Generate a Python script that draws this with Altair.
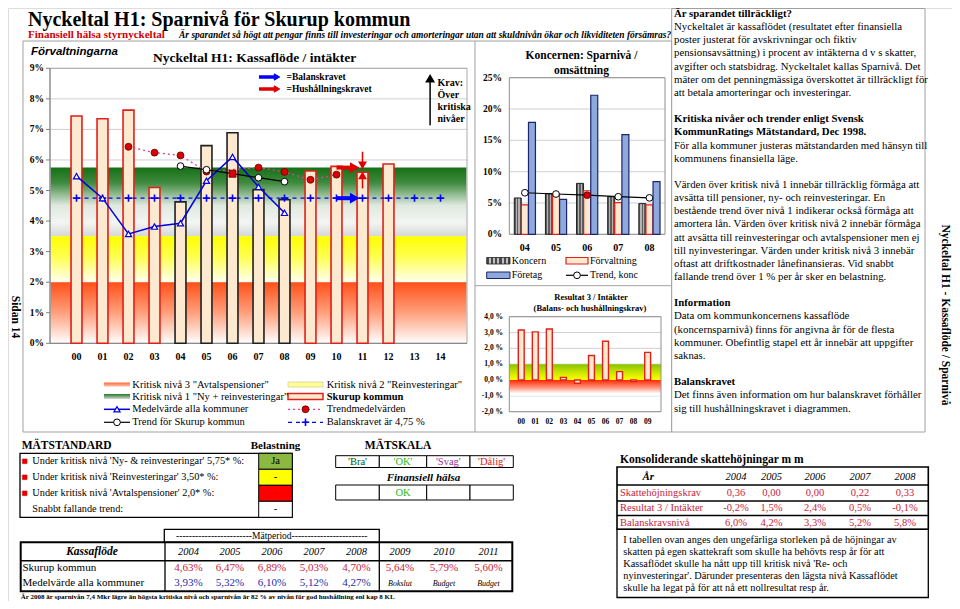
import altair as alt
import pandas as pd

OFF = 8
SERIF = "Liberation Serif"
SANS = "Liberation Sans"

# ---------------- data: main chart (Kassaflöde / intäkter) ----------------
main_cats = ["00", "01", "02", "03", "04", "05", "06", "07", "08", "09", "10", "11", "12", "13", "14"]
main_yticks = [0, 1, 2, 3, 4, 5, 6, 7, 8, 9]
main_ylabels = ["0%", "1%", "2%", "3%", "4%", "5%", "6%", "7%", "8%", "9%"]
skurup_idx = [0, 1, 2, 3, 4, 5, 6, 7, 8, 9, 10, 11, 12]
skurup_vals = [7.44, 7.35, 7.63, 5.10, 4.63, 6.47, 6.89, 5.03, 4.70, 5.64, 5.79, 5.60, 5.87]
matperiod_idx = [4, 5, 6, 7, 8]
medel_idx = [0, 1, 2, 3, 4, 5, 6, 7, 8]
medel_vals = [5.47, 4.75, 3.58, 3.82, 3.93, 5.32, 6.10, 5.12, 4.27]
tmedel_idx = [2, 3, 4, 5, 7, 8, 9, 10]
tmedel_vals = [6.43, 6.24, 6.15, 5.62, 5.75, 5.61, 5.35, 5.52]
tsk_idx = [4, 5, 6, 7, 8]
tsk_vals = [5.80, 5.68, 5.55, 5.42, 5.29]
tsk_current = 6
balans_idx = [0, 1, 2, 3, 4, 5, 6, 7, 8, 9, 10, 11, 12, 13, 14]
balans_level = 4.75
niva1, niva2, niva3 = 5.75, 3.50, 2.00

# ---------------- data: Koncernen ----------------
konc_cats = ["04", "05", "06", "07", "08"]
konc_yticks = [0, 5, 10, 15, 20, 25]
konc_ylabels = ["0%", "5%", "10%", "15%", "20%", "25%"]
koncern_vals = [5.80, 6.48, 8.13, 6.00, 4.90]
forvaltning_vals = [4.70, 6.47, 6.95, 5.05, 4.70]
foretag_vals = [17.86, 5.58, 22.20, 15.90, 8.40]
trend_konc_vals = [6.63, 6.43, 6.25, 6.00, 5.82]
konc_current = 2

# ---------------- data: Resultat 3 / Intäkter ----------------
res_cats = ["00", "01", "02", "03", "04", "05", "06", "07", "08", "09"]
res_yticks = [-2, -1, 0, 1, 2, 3, 4]
res_ylabels = ["-2,0 %", "-1,0 %", "0,0 %", "1,0 %", "2,0 %", "3,0 %", "4,0 %"]
res_vals = [3.16, 3.04, 3.22, 0.17, -0.20, 1.55, 2.45, 0.53, -0.10, 1.75]

# ---------------- data: tables ----------------
mat_rows = ["Under kritisk nivå 'Ny- & reinvesteringar' 5,75* %:",
            "Under kritisk nivå 'Reinvesteringar' 3,50* %:",
            "Under kritisk nivå 'Avtalspensioner' 2,0* %:",
            "Snabbt fallande trend:"]
belastning = ["Ja", "-", "-", "-"]
skala = ["'Bra'", "'OK'", "'Svag'", "'Dålig'"]
halsa = ["", "OK", "", ""]
tab_years = ["2004", "2005", "2006", "2007", "2008", "2009", "2010", "2011"]
tab_skurup = ["4,63%", "6,47%", "6,89%", "5,03%", "4,70%", "5,64%", "5,79%", "5,60%"]
tab_medel = ["3,93%", "5,32%", "6,10%", "5,12%", "4,27%"]
tab_notes = ["Bokslut", "Budget", "Budget"]
kons_years = ["2004", "2005", "2006", "2007", "2008"]
kons_rows = ["Skattehöjningskrav", "Resultat 3 / Intäkter", "Balanskravsnivå"]
kons_skatt = ["0,36", "0,00", "0,00", "0,22", "0,33"]
kons_res = ["-0,2%", "1,5%", "2,4%", "0,5%", "-0,1%"]
kons_bal = ["6,0%", "4,2%", "3,3%", "5,2%", "5,8%"]

panel_lines = [
    ("Är sparandet tillräckligt?", True),
    ("Nyckeltalet är kassaflödet (resultatet efter finansiella", False),
    ("poster justerat för avskrivningar och fiktiv", False),
    ("pensionsavsättning) i procent av intäkterna d v s skatter,", False),
    ("avgifter och statsbidrag. Nyckeltalet kallas Sparnivå. Det", False),
    ("mäter om det penningmässiga överskottet är tillräckligt för", False),
    ("att betala amorteringar och investeringar.", False),
    ("", False),
    ("Kritiska nivåer och trender enligt Svensk", True),
    ("KommunRatings Mätstandard, Dec 1998.", True),
    ("För alla kommuner justeras mätstandarden med hänsyn till", False),
    ("kommunens finansiella läge.", False),
    ("", False),
    ("Värden över kritisk nivå 1 innebär tillräcklig förmåga att", False),
    ("avsätta till pensioner, ny- och reinvesteringar. En", False),
    ("bestående trend över nivå 1 indikerar också förmåga att", False),
    ("amortera lån. Värden över kritisk nivå 2 innebär förmåga", False),
    ("att avsätta till reinvesteringar och avtalspensioner men ej", False),
    ("till nyinvesteringar. Värden under kritisk nivå 3 innebär", False),
    ("oftast att driftkostnader lånefinansieras. Vid snabbt", False),
    ("fallande trend över 1 % per år sker en belastning.", False),
    ("", False),
    ("Information", True),
    ("Data om kommunkoncernens kassaflöde", False),
    ("(koncernsparnivå) finns för angivna år för de flesta", False),
    ("kommuner. Obefintlig stapel ett år innebär att uppgifter", False),
    ("saknas.", False),
    ("", False),
    ("Balanskravet", True),
    ("Det finns även information om hur balanskravet förhåller", False),
    ("sig till hushållningskravet i diagrammen.", False),
]
kons_note = ["I tabellen ovan anges den ungefärliga storleken på de höjningar av",
             "skatten på egen skattekraft som skulle ha behövts resp år för att",
             "Kassaflödet skulle ha nått upp till  kritisk nivå 'Re- och",
             "nyinvesteringar'. Därunder presenteras den lägsta nivå Kassaflödet",
             "skulle ha legat på för att nå ett nollresultat resp år."]

# ---------------- colours ----------------
PEACH = "#FDE9D0"
RED = "#E0201A"
BLUE = "#0000DD"
CRIMSON = "#CC2238"
TBLUE = "#2A2AA8"


def P(v):
    return round(v - OFF, 2)


layers = []


def add(*c):
    layers.extend(c)


def tx(s, x, y, size=10, weight="normal", style="normal", color="black", align="left", font=SERIF, angle=0):
    return alt.Chart().mark_text(align=align, baseline="middle", fontSize=size, fontWeight=weight,
                                 fontStyle=style, color=color, font=font, angle=angle).encode(
        x=alt.value(P(x)), y=alt.value(P(y)), text=alt.value(s))


def block(lines, x, y0, lh, size=10, weight="normal", style="normal", color="black", align="left", font=SERIF):
    df = pd.DataFrame({"t": lines, "k": list(range(len(lines)))})
    df = df[df.t != ""]
    return alt.Chart(df).transform_calculate(yy=f"{P(y0)} + datum.k * {lh}").mark_text(
        align=align, baseline="middle", fontSize=size, fontWeight=weight, fontStyle=style,
        color=color, font=font).encode(x=alt.value(P(x)), y=alt.Y("yy:Q", scale=None), text="t:N")


def row_texts(strings, xs, y, size=10.5, weight="normal", style="normal", color="black", align="center", font=SERIF):
    df = pd.DataFrame({"t": strings, "xx": [P(v) for v in xs[:len(strings)]]})
    return alt.Chart(df).mark_text(align=align, baseline="middle", fontSize=size, fontWeight=weight,
                                   fontStyle=style, color=color, font=font).encode(
        x=alt.X("xx:Q", scale=None), y=alt.value(P(y)), text="t:N")


def prect(x, y, x2, y2, **mk):
    return alt.Chart().mark_rect(**mk).encode(x=alt.value(P(x)), x2=alt.value(P(x2)),
                                              y=alt.value(P(y)), y2=alt.value(P(y2)))


def prule(x, y, x2, y2, color="black", sw=1.0, dash=None):
    kw = dict(color=color, strokeWidth=sw)
    if dash:
        kw["strokeDash"] = dash
    return alt.Chart().mark_rule(**kw).encode(x=alt.value(P(x)), x2=alt.value(P(x2)),
                                              y=alt.value(P(y)), y2=alt.value(P(y2)))


def ppoint(x, y, shape="circle", size=40, fill="white", stroke="black", sw=1.0):
    return alt.Chart().mark_point(shape=shape, size=size, fill=fill, stroke=stroke, strokeWidth=sw,
                                  opacity=1, fillOpacity=1).encode(x=alt.value(P(x)), y=alt.value(P(y)))


def grad(stops, horizontal=False):
    g = dict(x1=0, x2=1, y1=0, y2=0) if horizontal else dict(x1=0, x2=0, y1=0, y2=1)
    return alt.Gradient(gradient="linear", stops=[alt.GradientStop(offset=o, color=c) for o, c in stops], **g)


def stripes(n, c1, c2):
    st = []
    for j in range(n):
        c = c1 if j % 2 == 0 else c2
        st += [(j / n, c), ((j + 1) / n, c)]
    return grad(st, horizontal=True)


def sx(f, s):
    return alt.X(f, scale=s, axis=None)


def sy(f, s):
    return alt.Y(f, scale=s, axis=None)


def band(lo, hi, xs, ys, xdom, stops):
    df = pd.DataFrame({"lo": [lo], "hi": [hi], "a": [xdom[0]], "b": [xdom[1]]})
    return alt.Chart(df).mark_rect(fill=grad(stops)).encode(
        x=sx("a:Q", xs), x2="b:Q", y=sy("hi:Q", ys), y2="lo:Q")


PLUS = "M-1,0L1,0M0,-1L0,1"

# ================= headings =================
add(tx("Nyckeltal H1: Sparnivå för Skurup kommun", 28, 19.5, 20, "bold"))
add(tx("Finansiell hälsa styrnyckeltal", 28, 35.2, 11, "bold", color="#D00000"))
add(tx("Är sparandet så högt att pengar finns till investeringar och amorteringar utan att skuldnivån ökar och likviditeten försämras?",
       179, 35.2, 9.5, "bold", "italic"))

# frames
add(prect(23, 41, 671.7, 432, fill="transparent", stroke="#A0A0A0", strokeWidth=1))
add(prule(475, 41, 475, 432, "#A0A0A0"))
add(prule(475, 285.7, 671.7, 285.7, "#A0A0A0"))

# ================= main chart =================
XM = alt.Scale(domain=[-1, 15], range=[P(50.5), P(466.5)], nice=False, zero=False)
YM = alt.Scale(domain=[0, 9], range=[P(343.3), P(68.3)], nice=False, zero=False)

df_yt = pd.DataFrame({"t": main_yticks, "lab": main_ylabels})
add(alt.Chart(df_yt).mark_rule(color="#C4C4C4", strokeWidth=0.8).encode(
    y=sy("t:Q", YM), x=alt.value(P(50)), x2=alt.value(P(467))))
add(band(niva2, niva1, XM, YM, [-1, 15], [(0, "#157015"), (0.22, "#3f8a3f"), (0.55, "#dfe9df"),
                                          (0.8, "#f3f5f3"), (1, "#d4d8d4")]))
add(band(niva3, niva2, XM, YM, [-1, 15], [(0, "#ffff00"), (0.45, "#ffff50"), (1, "#fffff2")]))
add(band(0, niva3, XM, YM, [-1, 15], [(0, "#ff5018"), (0.5, "#ffa07c"), (1, "#ffffff")]))
add(prect(50, 68.3, 467, 343.3, fill="transparent", stroke="#A8A8A8", strokeWidth=1))
add(prule(50, 68.3, 50, 343.3, "#808080"))
add(prule(50, 343.3, 467, 343.3, "#808080"))
add(alt.Chart(df_yt).mark_rule(color="#808080").encode(
    y=sy("t:Q", YM), x=alt.value(P(46)), x2=alt.value(P(50))))
add(alt.Chart(df_yt).mark_text(align="right", baseline="middle", font=SERIF, fontSize=9.5,
                               fontWeight="bold").encode(y=sy("t:Q", YM), x=alt.value(P(44)), text="lab:N"))
df_xc = pd.DataFrame({"i": list(range(len(main_cats))), "lab": main_cats})
add(alt.Chart(df_xc).mark_text(baseline="middle", font=SERIF, fontSize=10, fontWeight="bold").encode(
    x=sx("i:Q", XM), y=alt.value(P(357)), text="lab:N"))

df_sk = pd.DataFrame({"i": skurup_idx, "v": skurup_vals})
df_sk["per"] = df_sk.i.isin(matperiod_idx)
for sub, stroke in [(df_sk[~df_sk.per], RED), (df_sk[df_sk.per], "#202020")]:
    add(alt.Chart(sub).transform_calculate(a="datum.i - 0.21", b="datum.i + 0.21", z="0").mark_rect(
        fill=PEACH, stroke=stroke, strokeWidth=1.6).encode(
        x=sx("a:Q", XM), x2="b:Q", y=sy("v:Q", YM), y2="z:Q"))

df_bal = pd.DataFrame({"i": balans_idx, "v": [balans_level] * len(balans_idx)})
add(alt.Chart(df_bal).mark_line(color="#0000FF", strokeWidth=1.3, strokeDash=[4, 4]).encode(
    x=sx("i:Q", XM), y=sy("v:Q", YM)))
add(alt.Chart(df_bal).mark_point(shape=PLUS, size=55, stroke="#0000FF", strokeWidth=1.6, fill="transparent",
                                 opacity=1).encode(x=sx("i:Q", XM), y=sy("v:Q", YM)))

df_tm = pd.DataFrame({"i": tmedel_idx, "v": tmedel_vals})
add(alt.Chart(df_tm).mark_line(color="#E040A0", strokeWidth=1.3, strokeDash=[2, 3]).encode(
    x=sx("i:Q", XM), y=sy("v:Q", YM)))
add(alt.Chart(df_tm).mark_point(shape="circle", size=48, fill="#DD0000", stroke="#5a0000", strokeWidth=0.8,
                                opacity=1, fillOpacity=1).encode(x=sx("i:Q", XM), y=sy("v:Q", YM)))

df_md = pd.DataFrame({"i": medel_idx, "v": medel_vals})
add(alt.Chart(df_md).mark_line(color=BLUE, strokeWidth=1.5).encode(x=sx("i:Q", XM), y=sy("v:Q", YM)))
add(alt.Chart(df_md).mark_point(shape="triangle-up", size=38, fill="white", stroke=BLUE, strokeWidth=1.2,
                                opacity=1, fillOpacity=1).encode(x=sx("i:Q", XM), y=sy("v:Q", YM)))

df_ts = pd.DataFrame({"i": tsk_idx, "v": tsk_vals})
add(alt.Chart(df_ts).mark_line(color="black", strokeWidth=1.2).encode(x=sx("i:Q", XM), y=sy("v:Q", YM)))
add(alt.Chart(df_ts[df_ts.i != tsk_current]).mark_point(shape="circle", size=45, fill="white", stroke="black",
                                                       strokeWidth=1, opacity=1, fillOpacity=1).encode(
    x=sx("i:Q", XM), y=sy("v:Q", YM)))
add(alt.Chart(df_ts[df_ts.i == tsk_current]).mark_point(shape="square", size=50, fill="#DD0000",
                                                       stroke="#600000", strokeWidth=0.8, opacity=1,
                                                       fillOpacity=1).encode(x=sx("i:Q", XM), y=sy("v:Q", YM)))

# krav arrows in the chart
df_ha = pd.DataFrame({"a": [10.0], "b": [10.6], "h": [10.68], "bal": [balans_level], "hus": [niva1]})
add(alt.Chart(df_ha).mark_rule(color="#0000FF", strokeWidth=4).encode(x=sx("a:Q", XM), x2="b:Q", y=sy("bal:Q", YM)))
add(alt.Chart(df_ha).mark_point(shape="triangle-right", size=55, fill="#0000FF", stroke="#0000FF", opacity=1,
                                fillOpacity=1).encode(x=sx("h:Q", XM), y=sy("bal:Q", YM)))
add(alt.Chart(df_ha).mark_rule(color="#E00000", strokeWidth=4).encode(x=sx("a:Q", XM), x2="b:Q", y=sy("hus:Q", YM)))
add(alt.Chart(df_ha).mark_point(shape="triangle-right", size=55, fill="#E00000", stroke="#E00000", opacity=1,
                                fillOpacity=1).encode(x=sx("h:Q", XM), y=sy("hus:Q", YM)))
df_va = pd.DataFrame({"i": [11, 11], "a": [6.27, 5.07], "b": [5.9, 5.42], "h": [5.84, 5.48],
                      "dir": ["down", "up"]})
add(alt.Chart(df_va).mark_rule(color="#E00000", strokeWidth=1.5).encode(x=sx("i:Q", XM), y=sy("a:Q", YM), y2="b:Q"))
add(alt.Chart(df_va[df_va.dir == "down"]).mark_point(shape="triangle-down", size=30, fill="#E00000",
                                                    stroke="#E00000", opacity=1, fillOpacity=1).encode(
    x=sx("i:Q", XM), y=sy("h:Q", YM)))
add(alt.Chart(df_va[df_va.dir == "up"]).mark_point(shape="triangle-up", size=30, fill="#E00000",
                                                  stroke="#E00000", opacity=1, fillOpacity=1).encode(
    x=sx("i:Q", XM), y=sy("h:Q", YM)))
df_kr = pd.DataFrame({"i": [13.6], "a": [7.14], "b": [8.6], "h": [8.66]})
add(alt.Chart(df_kr).mark_rule(color="black", strokeWidth=1.5).encode(x=sx("i:Q", XM), y=sy("a:Q", YM), y2="b:Q"))
add(alt.Chart(df_kr).mark_point(shape="triangle-up", size=42, fill="black", stroke="black", opacity=1,
                                fillOpacity=1).encode(x=sx("i:Q", XM), y=sy("h:Q", YM)))

add(tx("Förvaltningarna", 31, 51.5, 11.5, "bold", "italic", font=SANS))
add(tx("Nyckeltal H1: Kassaflöde / intäkter", 254.5, 57.5, 13.5, "bold", align="center"))
add(prule(259, 77, 275, 77, "#0000FF", 3.5))
add(ppoint(277, 77, "triangle-right", 40, "#0000FF", "#0000FF"))
add(prule(259, 89, 275, 89, "#E00000", 3.5))
add(ppoint(277, 89, "triangle-right", 40, "#E00000", "#E00000"))
add(tx("=Balanskravet", 286.5, 77, 9.5, "bold"))
add(tx("=Hushållningskravet", 286.5, 89, 9.5, "bold"))
add(block(["Krav:", "Över", "kritiska", "nivåer"], 437.5, 82.7, 12.2, 10, "bold"))

# legend
r1, r2, r3, r4 = 384.5, 396.5, 409.3, 422.3
add(prect(104, r1 - 2, 130, r1 + 2, fill=grad([(0, "#ff6a3a"), (1, "#ffc0a8")])))
add(prect(104, r2 - 2.5, 130, r2 + 2.5, fill=grad([(0, "#1f7a1f"), (0.6, "#8fb08f"), (1, "#d6dad6")])))
add(prule(104, r3, 130, r3, BLUE, 1.5))
add(ppoint(117, r3, "triangle-up", 38, "white", BLUE, 1.2))
add(prule(104, r4, 130, r4, "black", 1.2))
add(ppoint(117, r4, "circle", 45, "white", "black", 1))
add(prect(288, r1 - 2.5, 323, r1 + 2.5, fill="#ffff90", stroke="#d0d0a0", strokeWidth=0.8))
add(prect(288, r2 - 3, 323, r2 + 3, fill=PEACH, stroke=RED, strokeWidth=1.5))
add(prule(288, r3, 323, r3, "#E040A0", 1.3, [2, 3]))
add(ppoint(305.5, r3, "circle", 48, "#DD0000", "#5a0000", 0.8))
add(prule(288, r4, 323, r4, "#0000FF", 1.3, [4, 4]))
add(ppoint(305.5, r4, PLUS, 55, "transparent", "#0000FF", 1.6))
add(block(['Kritisk nivå 3 "Avtalspensioner"', 'Kritisk nivå 1 "Ny + reinvesteringar"'], 132.3, r1, r2 - r1, 10.5))
add(block(["Medelvärde alla kommuner", "Trend för Skurup kommun"], 132.3, r3, r4 - r3, 10.5))
add(tx('Kritisk nivå 2 "Reinvesteringar"', 326.7, r1, 10.5))
add(tx("Skurup kommun", 326.7, r2, 10.5, "bold"))
add(block(["Trendmedelvärden", "Balanskravet är 4,75 %"], 326.7, r3, r4 - r3, 10.5))

# ================= Koncernen chart =================
X1 = alt.Scale(domain=[-0.5, 4.5], range=[P(509.3), P(665)], nice=False, zero=False)
Y1 = alt.Scale(domain=[0, 25], range=[P(234.3), P(77.7)], nice=False, zero=False)
df_k = pd.DataFrame({"t": konc_yticks, "lab": konc_ylabels})
add(alt.Chart(df_k).mark_rule(color="#C4C4C4", strokeWidth=0.8).encode(
    y=sy("t:Q", Y1), x=alt.value(P(509.3)), x2=alt.value(P(665))))
add(prect(509.3, 77.7, 665, 234.3, fill="transparent", stroke="#909090", strokeWidth=1))
add(alt.Chart(df_k).mark_text(align="right", baseline="middle", font=SERIF, fontSize=9.5,
                              fontWeight="bold").encode(y=sy("t:Q", Y1), x=alt.value(P(502)), text="lab:N"))
df_kc = pd.DataFrame({"k": list(range(len(konc_cats))), "lab": konc_cats})
add(alt.Chart(df_kc).mark_text(baseline="middle", font=SERIF, fontSize=10, fontWeight="bold").encode(
    x=sx("k:Q", X1), y=alt.value(P(248.3)), text="lab:N"))


def konc_bar(vals, off, **mk):
    df = pd.DataFrame({"k": list(range(len(vals))), "v": vals})
    return alt.Chart(df).transform_calculate(a=f"datum.k + ({off}) - 0.112", b=f"datum.k + ({off}) + 0.112",
                                             z="0").mark_rect(**mk).encode(
        x=sx("a:Q", X1), x2="b:Q", y=sy("v:Q", Y1), y2="z:Q")


add(konc_bar(koncern_vals, -0.228, fill=stripes(5, "#5c5c5c", "#b4b4b4"), stroke="#202020", strokeWidth=1))
add(konc_bar(forvaltning_vals, 0.0, fill=PEACH, stroke=RED, strokeWidth=1.2))
add(konc_bar(foretag_vals, 0.228, fill="#8EA9DB", stroke="#1A2470", strokeWidth=1.2))
df_tk = pd.DataFrame({"k": list(range(len(trend_konc_vals))), "v": trend_konc_vals})
add(alt.Chart(df_tk).mark_line(color="black", strokeWidth=1.2).encode(x=sx("k:Q", X1), y=sy("v:Q", Y1)))
add(alt.Chart(df_tk[df_tk.k != konc_current]).mark_point(shape="circle", size=45, fill="white", stroke="black",
                                                        strokeWidth=1, opacity=1, fillOpacity=1).encode(
    x=sx("k:Q", X1), y=sy("v:Q", Y1)))
add(alt.Chart(df_tk[df_tk.k == konc_current]).mark_point(shape="circle", size=45, fill="#DD0000",
                                                        stroke="#500000", strokeWidth=0.8, opacity=1,
                                                        fillOpacity=1).encode(x=sx("k:Q", X1), y=sy("v:Q", Y1)))
add(tx("Koncernen: Sparnivå /", 581.5, 55.7, 11.5, "bold", align="center"))
add(tx("omsättning", 581.5, 70.5, 11.5, "bold", align="center"))
add(prect(486.7, 257.5, 510, 264, fill=stripes(11, "#4a4a4a", "#c0c0c0"), stroke="#202020", strokeWidth=0.8))
add(prect(566, 257.5, 588, 264, fill=PEACH, stroke=RED, strokeWidth=1.2))
add(prect(486.7, 272, 510, 278.5, fill="#8EA9DB", stroke="#1A2470", strokeWidth=1))
add(prule(566, 275.3, 588, 275.3, "black", 1.2))
add(ppoint(577, 275.3, "circle", 45, "white", "black", 1))
add(tx("Koncern", 511.7, 260.7, 10))
add(tx("Förvaltning", 590, 260.7, 10))
add(tx("Företag", 511.7, 275.3, 10))
add(tx("Trend, konc", 590, 275.3, 10))

# ================= Resultat 3 chart =================
X2 = alt.Scale(domain=[-0.85, 9.95], range=[P(509.3), P(661)], nice=False, zero=False)
Y2 = alt.Scale(domain=[-2, 4], range=[P(411.7), P(316.7)], nice=False, zero=False)
df_r = pd.DataFrame({"t": res_yticks, "lab": res_ylabels})
add(alt.Chart(df_r).mark_rule(color="#C4C4C4", strokeWidth=0.8).encode(
    y=sy("t:Q", Y2), x=alt.value(P(509.3)), x2=alt.value(P(661))))
add(band(0, 1, X2, Y2, [-0.85, 9.95], [(0, "#86c400"), (0.5, "#c8e400"), (1, "#ffff00")]))
add(band(-1, 0, X2, Y2, [-0.85, 9.95], [(0, "#ff2a00"), (0.45, "#ff8c74"), (0.85, "#ffffff"), (1, "#ffffff")]))
add(prect(509.3, 316.7, 661, 411.7, fill="transparent", stroke="#909090", strokeWidth=1))
add(alt.Chart(df_r).mark_text(align="right", baseline="middle", font=SERIF, fontSize=7.5,
                              fontWeight="bold").encode(y=sy("t:Q", Y2), x=alt.value(P(503)), text="lab:N"))
df_rc = pd.DataFrame({"k": list(range(len(res_cats))), "lab": res_cats, "v": res_vals})
add(alt.Chart(df_rc).mark_text(baseline="middle", font=SERIF, fontSize=7.5, fontWeight="bold").encode(
    x=sx("k:Q", X2), y=alt.value(P(421.7)), text="lab:N"))
add(alt.Chart(df_rc).transform_calculate(a="datum.k - 0.21", b="datum.k + 0.21", z="0").mark_rect(
    fill=PEACH, stroke=RED, strokeWidth=1.4).encode(x=sx("a:Q", X2), x2="b:Q", y=sy("v:Q", Y2), y2="z:Q"))
add(tx("Resultat 3 / Intäkter", 591, 297, 8.5, "bold", align="center"))
add(tx("(Balans- och hushållningskrav)", 590, 308, 8.5, "bold", align="center"))

# ================= text panel =================
add(prect(671.7, 8.5, 925, 432, fill="white", stroke="#A0A0A0", strokeWidth=1))
add(block([t if not b else "" for t, b in panel_lines], 674, 14, 13.15, 10.8))
add(block([t if b else "" for t, b in panel_lines], 674, 14, 13.15, 10.8, "bold"))
add(tx("Nyckeltal H1 - Kassaflöde / Sparnivå", 945, 315, 11.5, "bold", align="center", angle=90))
add(tx("Sidan 14", 15, 317, 11.5, "bold", align="center", angle=90))

# ================= Mätstandard table =================
add(tx("MÄTSTANDARD", 21.7, 446, 11.5, "bold"))
add(tx("Belastning", 275.5, 446, 11, "bold", align="center"))
add(prect(20, 453.3, 292.3, 517.3, fill="transparent", stroke="black", strokeWidth=1.3))
cell_fill = ["#8AB840", "#FFFF00", "#FF0000", "#FFFFFF"]
for j in range(4):
    add(prect(258.7, 453.3 + 16 * j, 292.3, 469.3 + 16 * j, fill=cell_fill[j], stroke="black", strokeWidth=1))
for j in range(3):
    add(ppoint(24.7, 461.3 + 16 * j, "square", 22, "#E00000", "#E00000", 0.5))
add(block(mat_rows, 32.3, 461.3, 16, 10.3))
bel_col = ["black", "black", "#E00000", "black"]
for j in range(4):
    add(tx(belastning[j], 275.5, 461.3 + 16 * j, 10.5, align="center", color=bel_col[j]))

# Mätskala
add(tx("MÄTSKALA", 398, 446, 11.5, "bold", align="center"))
edges = [335.7, 379.3, 426.7, 470, 513.3]
for j in range(4):
    add(prect(edges[j], 455.7, edges[j + 1], 467.5, fill="white", stroke="black", strokeWidth=1))
    add(prect(edges[j], 485, edges[j + 1], 500, fill="white", stroke="black", strokeWidth=1))
skala_col = ["#005a00", "#22bb22", "#993399", "#E02020"]
for j in range(4):
    add(tx(skala[j], (edges[j] + edges[j + 1]) / 2, 461.6, 10.5, align="center", color=skala_col[j]))
    if halsa[j]:
        add(tx(halsa[j], (edges[j] + edges[j + 1]) / 2, 492.5, 10.5, align="center", color="#22bb22"))
add(tx("Finansiell hälsa", 423.5, 477.7, 11, "bold", "italic", align="center"))

# Kassaflöde table
add(prect(164.3, 529.3, 379.3, 542.3, fill="white", stroke="black", strokeWidth=1.3))
add(tx("------------------------Mätperiod------------------------", 271.8, 536, 9.5, align="center"))
add(prect(20.7, 542.3, 512.3, 591.3, fill="transparent", stroke="black", strokeWidth=2))
add(prule(20.7, 560.7, 512.3, 560.7, "black", 1.5))
add(prule(165, 542.3, 165, 591.3, "black", 1.3))
add(prule(379.3, 542.3, 379.3, 591.3, "black", 1.3))
ycols = [188.5, 230, 272, 314, 356.5, 400, 444, 488.5]
add(tx("Kassaflöde", 92, 551.5, 11.5, "bold", "italic", align="center"))
add(row_texts(tab_years, ycols, 551.5, 10.5, style="italic"))
add(tx("Skurup kommun", 22.5, 567.7, 11))
add(tx("Medelvärde alla kommuner", 22.5, 582.7, 11))
add(row_texts(tab_skurup, ycols, 567.7, 11, color=CRIMSON))
add(row_texts(tab_medel, ycols, 582.7, 11, color=TBLUE))
add(row_texts(tab_notes, ycols[5:], 583.5, 8, style="italic"))
add(tx("År 2008 är sparnivån 7,4 Mkr lägre än högsta kritiska nivå och sparnivån är 82 % av nivån för god hushållning enl kap 8 KL",
       20.7, 597, 7, "bold"))

# Konsoliderande skattehöjningar
add(tx("Konsoliderande skattehöjningar m m", 620, 459.5, 11.5, "bold"))
add(prect(617, 467, 928.3, 529.3, fill="white", stroke="black", strokeWidth=1.6))
for yy in [485, 501, 515.5]:
    add(prule(617, yy, 928.3, yy, "black", 1.4))
kcols = [736, 771.5, 815, 860, 905]
add(tx("År", 648.3, 476.5, 11, "bold", "italic", align="center"))
add(row_texts(kons_years, kcols, 476.5, 10.5, style="italic"))
add(block(kons_rows, 620, 493.3, 14.7, 10.5, color=CRIMSON))
add(row_texts(kons_skatt, kcols, 493.3, 10.5, color=CRIMSON))
add(row_texts(kons_res, kcols, 508.2, 10.5, color=CRIMSON))
add(row_texts(kons_bal, kcols, 522.5, 10.5, color=CRIMSON))
add(prect(617, 529.3, 928.3, 597.5, fill="transparent", stroke="black", strokeWidth=1.3))
add(block(kons_note, 623.3, 540, 12.1, 10.3))

dummy = pd.DataFrame({"d": [0]})
chart = alt.layer(*layers, data=dummy).resolve_scale(x="independent", y="independent").properties(
    width=944, height=593, autosize=alt.AutoSizeParams(type="none"), padding=0
).configure_view(strokeWidth=0).configure(background="white")

chart.save("out.html", embed_options={"renderer": "svg", "actions": False})
